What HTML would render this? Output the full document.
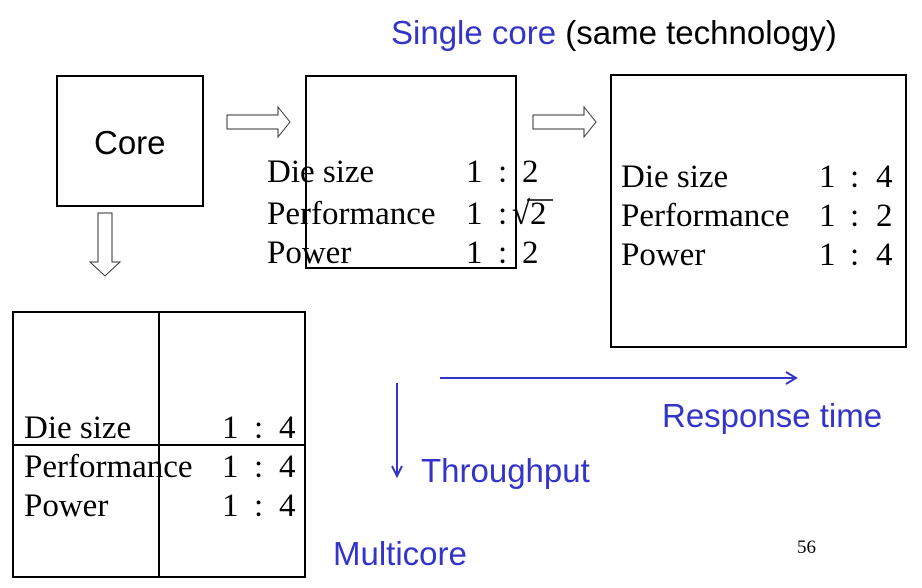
<!DOCTYPE html>
<html><head><meta charset="utf-8"><style>
html,body{margin:0;padding:0;background:#fff;}
svg{display:block;}
.s{font-family:"Liberation Serif",serif;font-size:33px;fill:#000;}
.b{font-family:"Liberation Sans",sans-serif;font-size:33px;fill:#3434c8;}
</style></head><body>
<svg width="922" height="588" viewBox="0 0 922 588" xmlns="http://www.w3.org/2000/svg">
<g fill="none" stroke="#000" stroke-width="2">
<rect x="57" y="76" width="146" height="130"/>
<rect x="306" y="76" width="210" height="192"/>
<rect x="611" y="75" width="295" height="272"/>
<rect x="13" y="312" width="292" height="265"/>
<line x1="159" y1="312" x2="159" y2="577"/>
<line x1="13" y1="445" x2="305" y2="445"/>
</g>
<g fill="#fff" stroke="#333" stroke-width="1">
<polygon points="227,115 278,115 278,107 290,122 278,137 278,129 227,129"/>
<polygon points="533,115 584,115 584,107 596,122 584,137 584,129 533,129"/>
<polygon points="98,213 112,213 112,262 120,262 105,276 90,262 98,262"/>
</g>
<text x="94" y="154" font-family="Liberation Sans,sans-serif" font-size="33" fill="#000">Core</text>
<text x="391" y="44" class="b">Single core <tspan fill="#000">(same technology)</tspan></text>
<g class="s">
<text x="267" y="182">Die size</text><text x="466" y="182">1</text><text x="498" y="182">:</text><text x="522" y="182">2</text>
<text x="267" y="224">Performance</text><text x="466" y="224">1</text><text x="498" y="224">:</text><text x="512" y="224">√</text><text x="530" y="224">2</text>
<text x="267" y="263">Power</text><text x="466" y="263">1</text><text x="498" y="263">:</text><text x="522" y="263">2</text>
<text x="621" y="187">Die size</text><text x="819" y="187">1</text><text x="850" y="187">:</text><text x="876" y="187">4</text>
<text x="621" y="226">Performance</text><text x="819" y="226">1</text><text x="850" y="226">:</text><text x="876" y="226">2</text>
<text x="621" y="265">Power</text><text x="819" y="265">1</text><text x="850" y="265">:</text><text x="876" y="265">4</text>
<text x="24" y="438">Die size</text><text x="222" y="438">1</text><text x="254" y="438">:</text><text x="279" y="438">4</text>
<text x="24" y="477">Performance</text><text x="222" y="477">1</text><text x="254" y="477">:</text><text x="279" y="477">4</text>
<text x="24" y="516">Power</text><text x="222" y="516">1</text><text x="254" y="516">:</text><text x="279" y="516">4</text>
</g>
<line x1="527" y1="200" x2="553" y2="200" stroke="#000" stroke-width="1.5"/>
<g stroke="#3434c8" stroke-width="2" fill="none">
<line x1="440" y1="378" x2="795" y2="378"/>
<polyline points="786,372 796,378 786,384"/>
<line x1="397" y1="383" x2="397" y2="475"/>
<polyline points="392,466 397,476 402,466"/>
</g>
<text x="662" y="427" class="b">Response time</text>
<text x="421" y="482" class="b">Throughput</text>
<text x="333" y="565" class="b">Multicore</text>
<text x="797" y="553" font-family="Liberation Serif,serif" font-size="19" fill="#000">56</text>
</svg>
</body></html>
